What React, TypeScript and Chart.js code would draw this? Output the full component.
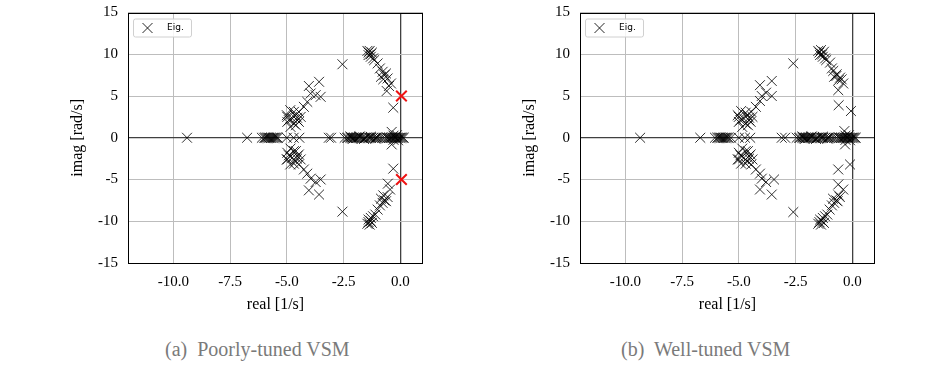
import React, { useEffect, useRef } from "react";
import { Chart, registerables } from "chart.js";
Chart.register(...registerables);

// ---------- axes / labels ----------
const X_RANGE = [-12, 1];
const Y_RANGE = [-15, 15];
const X_TICKS = [-10, -7.5, -5, -2.5, 0];
const X_TICK_LABELS = ["-10.0", "-7.5", "-5.0", "-2.5", "0.0"];
const Y_TICKS = [-15, -10, -5, 0, 5, 10, 15];
const Y_TICK_LABELS = ["-15", "-10", "-5", "0", "5", "10", "15"];
const X_TITLE = "real [1/s]";
const Y_TITLE = "imag [rad/s]";
const LEGEND_LABEL = "Eig.";
const CAPTION_A = "(a)\u00a0 Poorly-tuned VSM";
const CAPTION_B = "(b)\u00a0 Well-tuned VSM";

// ---------- (a) poorly tuned VSM eigenvalues ----------
const poorReal = [-9.4, -6.75, -6.1, -6.0, -5.95, -5.9, -5.85, -5.8, -5.75, -5.7, -5.65, -5.6, -5.55, -5.5, -5.45, -5.4,
  -5.0, -4.7, -4.45, -3.15, -3.05, -2.45, -2.35, -2.3, -2.2, -2.15, -2.1, -2.05, -2.0, -1.95, -1.9, -1.85, -1.8,
  -1.7, -1.6, -1.55, -1.5, -1.4, -1.35, -1.3, -1.2, -1.1, -1.05, -1.0, -0.9, -0.8, -0.7, -0.6, -0.55, -0.5, -0.45,
  -0.4, -0.35, -0.3, -0.25, -0.2, -0.15, -0.1, -0.05, 0.0, 0.05, 0.1, 0.15];
const poorUpper = [
  [-5.0, 2.7], [-4.85, 3.3], [-4.98, 1.9], [-4.76, 2.3], [-4.54, 2.1], [-4.91, 2.1], [-4.69, 1.7], [-4.98, 2.5],
  [-4.84, 1.3], [-4.47, 1.9], [-4.39, 2.5], [-4.69, 3.1], [-4.62, 2.7], [-4.6, 1.5], [-4.55, 2.4], [-4.47, 3.1],
  [-4.25, 3.7], [-4.1, 4.3], [-3.95, 5.3], [-3.73, 5.1], [-3.51, 4.9], [-4.03, 6.2], [-3.58, 6.7],
  [-2.55, 8.8],
  [-1.45, 10.4], [-1.4, 10.2], [-1.35, 10.4], [-1.3, 10.0], [-1.25, 10.2], [-1.4, 9.9], [-1.3, 9.7], [-1.2, 9.5],
  [-1.15, 9.3], [-1.0, 8.9], [-0.9, 8.3], [-0.78, 7.9], [-0.63, 7.7], [-0.85, 7.3], [-0.56, 7.1], [-0.7, 7.5],
  [-0.75, 7.0], [-0.41, 6.5], [-0.5, 6.2], [-0.6, 5.6], [-0.31, 3.6], [-0.38, 0.7],
  [-2.2, 0.15], [-1.8, 0.15], [-1.3, 0.12], [-0.3, 0.25], [-0.15, 0.3],
];
const poorLower = [
  [-5.0, -2.6], [-4.85, -3.2], [-4.98, -1.8], [-4.76, -2.4], [-4.54, -2.2], [-4.91, -2.1], [-4.69, -1.6], [-4.98, -2.6],
  [-4.84, -1.3], [-4.47, -2.0], [-4.39, -2.6], [-4.69, -3.1], [-4.62, -2.8], [-4.6, -1.6], [-4.55, -2.5], [-4.47, -3.2],
  [-4.25, -3.8], [-4.1, -4.3], [-3.95, -4.9], [-3.73, -5.3], [-3.51, -5.0], [-4.03, -6.3], [-3.58, -6.8],
  [-2.55, -8.85],
  [-1.45, -10.3], [-1.4, -10.1], [-1.35, -10.4], [-1.3, -10.0], [-1.25, -10.2], [-1.4, -9.8], [-1.3, -9.6], [-1.2, -9.4],
  [-1.1, -9.2], [-1.0, -8.6], [-0.9, -8.1], [-0.78, -7.8], [-0.63, -7.6], [-0.85, -7.3], [-0.56, -7.1], [-0.7, -7.5],
  [-0.75, -6.9], [-0.45, -6.2], [-0.55, -5.5], [-0.31, -3.7], [-0.38, -0.8],
  [-2.1, -0.15], [-1.6, -0.15], [-1.1, -0.12], [-0.3, -0.25], [-0.1, -0.3],
];
const poorUnstable = [[0.05, 5.0], [0.05, -5.0]];

// ---------- (b) well tuned VSM eigenvalues ----------
const wellReal = [-9.35, -6.7, -6.05, -5.95, -5.9, -5.85, -5.8, -5.75, -5.7, -5.65, -5.6, -5.55, -5.5, -5.45, -5.35,
  -5.0, -4.73, -4.5, -3.11, -2.96, -2.45, -2.35, -2.3, -2.2, -2.15, -2.1, -2.05, -2.0, -1.95, -1.9, -1.85, -1.8,
  -1.7, -1.6, -1.55, -1.5, -1.4, -1.35, -1.3, -1.2, -1.1, -1.05, -1.0, -0.9, -0.8, -0.7, -0.6, -0.55, -0.5, -0.45,
  -0.4, -0.35, -0.3, -0.25, -0.2, -0.15, -0.1, -0.05, 0.0, 0.05, 0.1, 0.15];
const wellUpper = [
  [-5.05, 2.7], [-4.9, 3.2], [-5.0, 1.9], [-4.78, 2.3], [-4.55, 2.1], [-4.93, 2.1], [-4.7, 1.7], [-5.0, 2.5],
  [-4.85, 1.3], [-4.48, 1.9], [-4.4, 2.5], [-4.7, 3.0], [-4.63, 2.7], [-4.6, 1.5], [-4.55, 2.4], [-4.45, 3.1],
  [-4.25, 3.7], [-4.07, 4.4], [-3.99, 5.0], [-3.8, 5.4], [-3.55, 5.0], [-4.07, 6.3], [-3.55, 6.8],
  [-2.6, 8.9],
  [-1.5, 10.4], [-1.45, 10.2], [-1.38, 10.5], [-1.32, 10.0], [-1.25, 10.3], [-1.42, 9.9], [-1.3, 9.7], [-1.2, 9.5],
  [-1.15, 9.3], [-0.98, 9.0], [-0.9, 8.3], [-0.84, 8.0], [-0.69, 7.6], [-0.8, 7.3], [-0.54, 7.2], [-0.7, 7.4],
  [-0.6, 6.9], [-0.4, 6.5], [-0.47, 7.0], [-0.62, 5.7], [-0.6, 3.9], [-0.06, 3.2], [-0.35, 0.8],
  [-2.2, 0.15], [-1.8, 0.15], [-1.3, 0.12], [-0.3, 0.25], [-0.15, 0.3],
];
const wellLower = [
  [-5.05, -2.6], [-4.9, -3.1], [-5.0, -1.8], [-4.78, -2.4], [-4.55, -2.2], [-4.93, -2.1], [-4.7, -1.6], [-5.0, -2.6],
  [-4.85, -1.3], [-4.48, -2.0], [-4.4, -2.6], [-4.7, -3.1], [-4.63, -2.8], [-4.6, -1.6], [-4.55, -2.5], [-4.45, -3.2],
  [-4.25, -3.8], [-4.07, -4.3], [-3.99, -4.9], [-3.8, -5.3], [-3.45, -5.0], [-4.07, -6.2], [-3.55, -6.8],
  [-2.6, -8.9],
  [-1.5, -10.3], [-1.45, -10.1], [-1.38, -10.4], [-1.32, -10.0], [-1.25, -10.2], [-1.42, -9.8], [-1.3, -9.6], [-1.2, -9.4],
  [-1.1, -9.2], [-1.0, -8.6], [-0.9, -8.1], [-0.8, -7.8], [-0.65, -7.6], [-0.85, -7.3], [-0.55, -7.1], [-0.7, -7.5],
  [-0.6, -6.9], [-0.4, -6.2], [-0.62, -5.6], [-0.62, -3.8], [-0.1, -3.2], [-0.32, -0.8],
  [-2.1, -0.15], [-1.6, -0.15], [-1.1, -0.12], [-0.3, -0.25], [-0.1, -0.3],
];
const wellUnstable: number[][] = [];

// ---------- helpers ----------
const toPoints = (real: number[], pairs: number[][][]) => [
  ...real.map((r) => ({ x: r, y: 0 })),
  ...pairs.flat().map(([x, y]) => ({ x, y })),
];

const SERIF = '"Liberation Serif", "Times New Roman", serif';
const gridColor = (c: any) => (c.tick && c.tick.value === 0 ? "#404040" : "#bdbdbd");
const gridWidth = (c: any) => (c.tick && c.tick.value === 0 ? 1.3 : 1);

const framePlugin = {
  id: "frame",
  afterDraw(chart: any) {
    const { left, top, right, bottom } = chart.chartArea;
    const ctx = chart.ctx;
    ctx.save();
    ctx.strokeStyle = "#000";
    ctx.lineWidth = 1;
    ctx.strokeRect(Math.round(left) + 0.5, Math.round(top) + 0.5, Math.round(right - left) - 1, Math.round(bottom - top) - 1);
    ctx.restore();
  },
};

const legendPlugin = {
  id: "insideLegend",
  afterDraw(chart: any) {
    const { left, top } = chart.chartArea;
    const ctx = chart.ctx;
    const bx = left + 5, by = top + 6, bw = 58, bh = 18;
    ctx.save();
    ctx.fillStyle = "rgba(255,255,255,0.85)";
    ctx.strokeStyle = "#d0d0d0";
    ctx.lineWidth = 1;
    ctx.beginPath();
    (ctx as any).roundRect(bx + 0.5, by + 0.5, bw, bh, 2);
    ctx.fill();
    ctx.stroke();
    const cx = bx + 14.5, cy = by + 9.5, h = 5;
    ctx.strokeStyle = "rgba(0,0,0,0.85)";
    ctx.beginPath();
    ctx.moveTo(cx - h, cy - h); ctx.lineTo(cx + h, cy + h);
    ctx.moveTo(cx - h, cy + h); ctx.lineTo(cx + h, cy - h);
    ctx.stroke();
    ctx.fillStyle = "#000";
    ctx.font = '9px "DejaVu Sans", sans-serif';
    ctx.textBaseline = "middle";
    ctx.fillText(LEGEND_LABEL, bx + 34, cy);
    ctx.restore();
  },
};

function EigChart({ black, red, left }: { black: { x: number; y: number }[]; red: { x: number; y: number }[]; left: number }) {
  const ref = useRef<HTMLCanvasElement>(null);
  useEffect(() => {
    const tickFont = { family: SERIF, size: 15 };
    const titleFont = { family: SERIF, size: 16 };
    const chart = new Chart(ref.current as HTMLCanvasElement, {
      type: "scatter",
      data: {
        datasets: [
          {
            label: LEGEND_LABEL, data: black, pointStyle: "crossRot", pointRadius: 7, pointHoverRadius: 7,
            borderColor: "rgba(0,0,0,0.82)", backgroundColor: "rgba(0,0,0,0)", pointBorderWidth: 1, borderWidth: 1,
          },
          {
            label: "unstable", data: red, pointStyle: "crossRot", pointRadius: 7.5, pointHoverRadius: 7.5,
            borderColor: "rgb(238,18,18)", backgroundColor: "rgba(0,0,0,0)", pointBorderWidth: 2, borderWidth: 2,
          },
        ],
      },
      options: {
        animation: false,
        responsive: false,
        maintainAspectRatio: false,
        layout: { padding: { top: 12.5, right: 10, left: 0, bottom: 0 } },
        plugins: { legend: { display: false }, tooltip: { enabled: false } },
        scales: {
          x: {
            type: "linear", min: X_RANGE[0], max: X_RANGE[1],
            afterBuildTicks: (s: any) => { s.ticks = X_TICKS.map((v) => ({ value: v })); },
            afterFit: (s: any) => { s.height = 51; s.paddingLeft = 0; s.paddingRight = 0; },
            ticks: {
              padding: 10, color: "#000", font: tickFont, maxRotation: 0, autoSkip: false,
              callback: (v: any) => X_TICK_LABELS[X_TICKS.indexOf(Number(v))] ?? "",
            },
            grid: { drawTicks: false, color: gridColor, lineWidth: gridWidth },
            border: { display: false },
            title: { display: true, text: X_TITLE, color: "#000", font: titleFont, padding: 0 },
          },
          y: {
            type: "linear", min: Y_RANGE[0], max: Y_RANGE[1],
            afterBuildTicks: (s: any) => { s.ticks = Y_TICKS.map((v) => ({ value: v })); },
            afterFit: (s: any) => { s.width = 60; s.paddingTop = 0; s.paddingBottom = 0; },
            ticks: {
              padding: 10, color: "#000", font: tickFont, autoSkip: false,
              callback: (v: any) => Y_TICK_LABELS[Y_TICKS.indexOf(Number(v))] ?? "",
            },
            grid: { drawTicks: false, color: gridColor, lineWidth: gridWidth },
            border: { display: false },
            title: { display: true, text: Y_TITLE, color: "#000", font: titleFont, padding: 0 },
          },
        },
      } as any,
      plugins: [framePlugin, legendPlugin],
    });
    return () => chart.destroy();
  }, []);
  return (
    <canvas
      ref={ref}
      width={365}
      height={314}
      style={{ position: "absolute", left, top: 0, width: 365, height: 314, display: "block" }}
    />
  );
}

const captionStyle = (left: number): React.CSSProperties => ({
  position: "absolute", left, top: 336, fontFamily: SERIF, fontSize: 20, color: "#7a7a7a",
  whiteSpace: "pre", lineHeight: "26px",
});

export default function App() {
  const a = toPoints(poorReal, [poorUpper, poorLower]);
  const aRed = poorUnstable.map(([x, y]) => ({ x, y }));
  const b = toPoints(wellReal, [wellUpper, wellLower]);
  const bRed = wellUnstable.map(([x, y]) => ({ x, y }));
  return (
    <div style={{ position: "absolute", left: 0, top: 0, width: 951, height: 373, background: "#fff", overflow: "hidden" }}>
      <EigChart black={a} red={aRed} left={68} />
      <EigChart black={b} red={bRed} left={520} />
      <div style={captionStyle(165)}>{CAPTION_A}</div>
      <div style={captionStyle(621)}>{CAPTION_B}</div>
    </div>
  );
}
